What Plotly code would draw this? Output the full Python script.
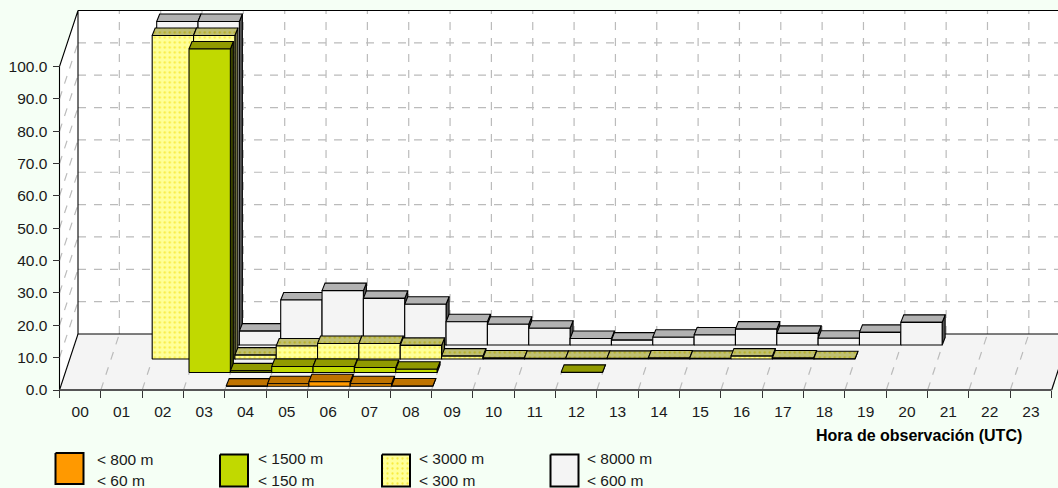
import plotly.graph_objects as go

hours = [f"{h:02d}" for h in range(24)]
N = None
# Percent values per hour, one list per visibility class, back to front in the depth order of the chart
s_8000 = [N, N, 100, 100, 4.3, 13.9, 16.8, 14.4, 12.6, 7.2, 6.4, 5.2, 2.0, 1.5, 2.4, 3.1, 4.9, 3.6, 2.1, 3.9, 7.0, N, N, N]
s_3000 = [N, N, 100, 100, 1.2, 4.0, 4.8, 4.8, 4.2, 0.9, 0.3, 0.2, 0.2, 0.2, 0.3, 0.2, 0.9, 0.3, 0.1, N, N, N, N, N]
s_1500 = [N, N, N, 100, 0.5, 1.85, 1.85, 1.55, 1.0, N, N, N, 0.05, N, N, N, N, N, N, N, N, N, N, N]
s_800 = [N, N, N, N, 0.05, 0.8, 1.4, 0.8, 0.1, N, N, N, N, N, N, N, N, N, N, N, N, N, N, N]
legend_top = ["< 800 m", "< 1500 m", "< 3000 m", "< 8000 m"]
legend_bottom = ["< 60 m", "< 150 m", "< 300 m", "< 600 m"]
y_ticks = list(range(0, 101, 10))

W, H = 1058, 488
PX_CAT, PX_VAL = 41.34, 3.235
X0_PX, Y0_PX = 59.5, 390.0
DX, DY = 18.5 / PX_CAT, 56 / PX_VAL
BAR_DX, BAR_DY = 3.0 / PX_CAT, 7.5 / PX_VAL
BG = "#F5FFF5"


def dots(bg, fg):
    return dict(shape=".", bgcolor=bg, fgcolor=fg, size=5, solidity=0.16, fillmode="replace")


LAYERS = [
    dict(vals=s_8000, ox=14.5, oy=45, front="#F4F4F4", top="#B2B2B2", side="#555555", pat=None, toppat=None),
    dict(vals=s_3000, ox=10, oy=31, front="#FFFF99", top="#BFBF73", side="#6E6E42",
         pat=dots("#FFFF99", "#F8EC40"), toppat=dots("#BFBF73", "#B8B020")),
    dict(vals=s_1500, ox=5.5, oy=17.5, front="#C1D900", top="#919A00", side="#3C4400", pat=None, toppat=None),
    dict(vals=s_800, ox=1.3, oy=3.7, front="#FF9900", top="#BF7300", side="#4C2E00", pat=None, toppat=None),
]

fig = go.Figure()


def poly(xs, ys, color=None, line="#000000", width=1.1, pat=None, xa="x", ya="y", dash=None, close=True):
    kw = dict(x=xs, y=ys, mode="lines", xaxis=xa, yaxis=ya, hoverinfo="skip", showlegend=False,
              line=dict(color=line, width=width, dash=dash))
    if close:
        kw.update(fill="toself", fillcolor=color)
    if pat:
        kw["fillpattern"] = pat
    fig.add_trace(go.Scatter(**kw))


n = len(hours)
vmax = y_ticks[-1]
xr = (W - X0_PX) / PX_CAT
# walls and floor
poly([DX, xr + 1, xr + 1, DX, DX], [DY, DY, DY + vmax, DY + vmax, DY], "#FFFFFF", line="rgba(0,0,0,0)")
poly([0, DX, DX, 0, 0], [0, DY, DY + vmax, vmax, 0], "#FFFFFF", line="rgba(0,0,0,0)")
poly([0, n, n + DX, xr + 1, xr + 1, DX, 0], [0, 0, DY, DY, DY, DY, 0], "#F4F4F4", line="rgba(0,0,0,0)")

# dashed grids
GRID = "#BBBBBB"
gx, gy = [], []
for v in y_ticks[1:-1]:
    gx += [DX, xr + 1, None, 0, DX, None]
    gy += [DY + v, DY + v, None, v, DY + v, None]
for k in range(1, n + 1):
    gx += [DX + k, DX + k, None, k, DX + k, None]
    gy += [DY, DY + vmax, None, 0, DY, None]
poly(gx, gy, line=GRID, width=1.2, dash="8px,8px", close=False)

# solid frame
poly([0, DX, None, 0, DX, DX, xr + 1, None, DX, xr + 1, None, n, n + DX, None, 0, 0],
     [0, DY, None, vmax, DY + vmax, DY, DY, None, DY + vmax, DY + vmax, None, 0, DY, None, 0, vmax],
     line="#000000", width=1.1, close=False)
poly([0, n], [0, 0], line="#555555", width=2, close=False)

# bars, back to front, left to right
for L in LAYERS:
    ox, oy = L["ox"] / PX_CAT, L["oy"] / PX_VAL
    for i, v in enumerate(L["vals"]):
        if v is None:
            continue
        x0, x1 = i + ox, i + 1 + ox
        y0, y1 = oy, oy + v
        poly([x1, x1 + BAR_DX, x1 + BAR_DX, x1, x1], [y0, y0 + BAR_DY, y1 + BAR_DY, y1, y0], L["side"])
        poly([x0, x0 + BAR_DX, x1 + BAR_DX, x1, x0], [y1, y1 + BAR_DY, y1 + BAR_DY, y1, y1], L["top"], pat=L["toppat"])
        poly([x0, x1, x1, x0, x0], [y0, y0, y1, y1, y0], L["front"], pat=L["pat"])

# legend swatches (pixel-scaled helper axes)
SW = [(55.5, 83.5, 453, 484, LAYERS[3]), (220, 248, 454.5, 486.5, LAYERS[2]),
      (382, 410, 454.5, 486.5, LAYERS[1]), (550.5, 578.5, 454.5, 486.5, LAYERS[0])]
for a, b, c, d, L in SW:
    poly([a, b, b, a, a], [c, c, d, d, c], L["front"], width=2, pat=L["pat"], xa="x2", ya="y2")

annots = [dict(text="<b>Hora de observación (UTC)</b>", x=1023.5, y=435, xref="x2", yref="y2", xanchor="right", yanchor="middle",
               showarrow=False, font=dict(size=16, family="Liberation Sans", color="#000000"))]
LEG_X = [94.5, 256, 416.5, 584.5]
LEG_Y = [(459.5, 480.2), (458, 480), (458, 480), (458, 480)]
for x, (y1, y2), t, b in zip(LEG_X, LEG_Y, legend_top, legend_bottom):
    for yy, tx in ((y1, t), (y2, b)):
        annots.append(dict(text=tx, x=x, y=yy, xref="x2", yref="y2", xanchor="left", yanchor="middle", showarrow=False,
                           font=dict(size=15.5, family="Liberation Sans", color="#1A1A1A")))

fig.update_layout(
    width=W, height=H, margin=dict(l=0, r=0, t=0, b=0), autosize=False,
    paper_bgcolor=BG, plot_bgcolor=BG, showlegend=False,
    font=dict(family="Liberation Sans", size=15.5, color="#1A1A1A"),
    annotations=annots,
    xaxis=dict(domain=[(X0_PX - 0.9 * PX_CAT) / W, 1], range=[-0.9, xr], anchor="free", position=(H - Y0_PX) / H,
               tickmode="array", tickvals=[i + 0.5 for i in range(n)], ticktext=hours, ticks="",
               showgrid=False, zeroline=False, showline=False, fixedrange=True,
               minor=dict(ticks="outside", tickmode="linear", tick0=0, dtick=1, ticklen=7, tickwidth=1, tickcolor="#333333", showgrid=False),
               ticklabelposition="outside", ticklabelstandoff=10),
    yaxis=dict(domain=[(H - Y0_PX - 3 * PX_VAL) / H, 1], range=[-3, Y0_PX / PX_VAL], anchor="free", position=X0_PX / W,
               tickmode="array", tickvals=y_ticks, ticktext=[f"{v:.1f}" for v in y_ticks], ticks="outside", ticklen=7,
               tickwidth=1, tickcolor="#333333", showgrid=False, zeroline=False, showline=False, fixedrange=True,
               ticklabelstandoff=2),
    xaxis2=dict(domain=[0, 1], range=[0, W], visible=False, anchor="y2", fixedrange=True),
    yaxis2=dict(domain=[0, 62 / H], range=[H, H - 62], visible=False, anchor="x2", fixedrange=True),
)

fig.write_html("out.html", config=dict(displayModeBar=False),
               post_script="document.body.style.margin='0';document.body.style.background='#F5FFF5';document.body.style.overflow='hidden';")
